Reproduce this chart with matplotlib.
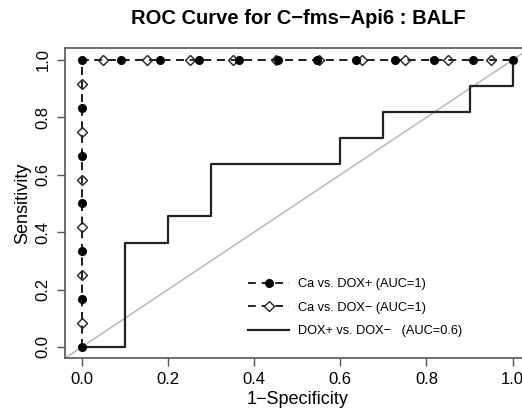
import matplotlib
matplotlib.use("Agg")
import matplotlib.pyplot as plt

plt.rcParams['font.family'] = ['Liberation Sans', 'DejaVu Sans']

# Ca vs. DOX+ : 6 positives, 11 negatives
dp_x = [0, 0, 0, 0, 0, 0, 0, 1/11, 2/11, 3/11, 4/11, 5/11, 6/11, 7/11, 8/11, 9/11, 10/11, 1]
dp_y = [0, 1/6, 2/6, 3/6, 4/6, 5/6, 1, 1, 1, 1, 1, 1, 1, 1, 1, 1, 1, 1]

# Ca vs. DOX- : curve and the spots where markers were drawn
dm_x = [0, 0, 1]
dm_y = [0, 1, 1]
dm_mx = [0, 0, 0, 0, 0, 0, 0.05, 0.15, 0.25, 0.35, 0.45, 0.55, 0.65, 0.75, 0.85, 0.95]
dm_my = [1/12, 3/12, 5/12, 7/12, 9/12, 11/12, 1, 1, 1, 1, 1, 1, 1, 1, 1, 1]

# DOX+ vs. DOX- step curve
pm_x = [0, 0.1, 0.1, 0.2, 0.2, 0.3, 0.3, 0.6, 0.6, 0.7, 0.7, 0.9, 0.9, 1.0, 1.0]
pm_y = [0, 0, 4/11, 4/11, 5/11, 5/11, 7/11, 7/11, 8/11, 8/11, 9/11, 9/11, 10/11, 10/11, 1]

ticks = [0.0, 0.2, 0.4, 0.6, 0.8, 1.0]
labels = ['Ca vs. DOX+ (AUC=1)', 'Ca vs. DOX\u2212 (AUC=1)',
          'DOX+ vs. DOX\u2212   (AUC=0.6)']

fig = plt.figure(figsize=(5.22, 4.11), dpi=100)
ax = fig.add_axes([0.124, 0.128, 0.891, 0.754])

ax.axline((0, 0), (1, 1), color='#bbbbbb', lw=1.2, zorder=1)

ax.plot(pm_x, pm_y, color='#222222', lw=1.6, zorder=2)
ax.plot(dm_x, dm_y, color='#222222', lw=1.4, ls=(0, (4, 3)), zorder=3)
ax.plot(dm_mx, dm_my, ls='none', marker='D', ms=5.5, mfc='white',
        mec='#222222', mew=1.0, zorder=4)
ax.plot(dp_x, dp_y, color='#222222', lw=1.4, ls=(0, (4, 3)), marker='o',
        ms=5.5, mfc='black', mec='black', zorder=5)

# legend handles
h1, = ax.plot([], [], color='#222222', lw=1.4, ls=(0, (4, 3)), marker='o',
              ms=5.5, mfc='black', mec='black')
h2, = ax.plot([], [], color='#222222', lw=1.4, ls=(0, (4, 3)), marker='D',
              ms=5.5, mfc='white', mec='#222222')
h3, = ax.plot([], [], color='#222222', lw=1.6)
ax.legend([h1, h2, h3], labels,
          loc='lower left', bbox_to_anchor=(0.37, 0.031), frameon=False,
          fontsize=9.2, handlelength=3.2, labelspacing=0.9, handletextpad=0.7)

ax.set_xlim(-0.04, 1.04)
ax.set_ylim(-0.04, 1.04)
ax.set_xticks(ticks)
ax.set_yticks(ticks)
ax.set_xticklabels(['%.1f' % t for t in ticks], fontsize=12)
ax.set_yticklabels(['%.1f' % t for t in ticks], fontsize=12, rotation=90, va='center')
ax.tick_params(direction='out', length=6, width=1, color='#555555', pad=4)
for s in ax.spines.values():
    s.set_color('#555555')
    s.set_linewidth(1.2)

ax.set_xlabel('1\u2212Specificity', fontsize=13, labelpad=3)
ax.set_ylabel('Sensitivity', fontsize=13, labelpad=3)
fig.text(0.571, 0.955, 'ROC Curve for C\u2212fms\u2212Api6 : BALF', fontsize=14.5,
         fontweight='bold', ha='center', va='center')

fig.savefig('out.png', dpi=100)
